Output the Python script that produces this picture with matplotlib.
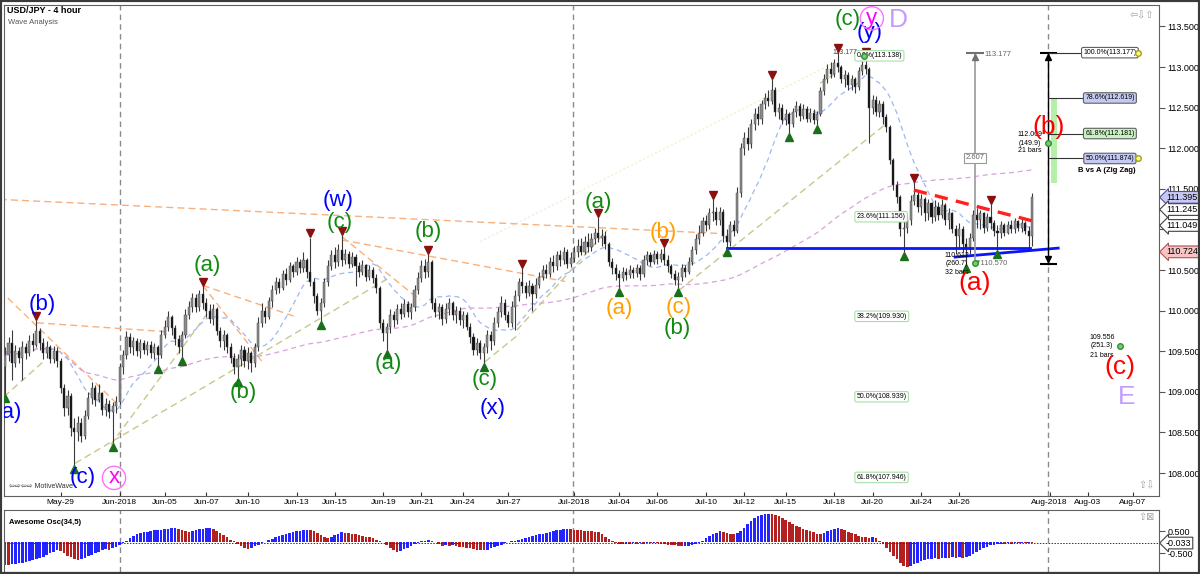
import matplotlib
matplotlib.use("Agg")
import matplotlib.pyplot as plt
import matplotlib.transforms as mtransforms
from matplotlib.patches import Rectangle
import pandas as pd

plt.rcParams['font.family'] = ['Liberation Sans', 'DejaVu Sans']

# ---- price data (4 hour bars) ----
first_open = 109.30
closes = [
    109.45, 109.60, 109.35, 109.50, 109.42, 109.55, 109.48, 109.62, 109.58, 109.75,
    109.60, 109.48, 109.55, 109.40, 109.50, 109.38, 109.05, 108.80, 108.95, 108.55,
    108.50, 108.62, 108.45, 108.70, 108.92, 109.05, 108.90, 108.98, 108.78, 108.85,
    108.75, 108.82, 108.88, 109.30, 109.45, 109.68, 109.55, 109.62, 109.50, 109.60,
    109.52, 109.58, 109.48, 109.55, 109.45, 109.70, 109.80, 109.92, 109.78, 109.65,
    109.55, 109.70, 109.95, 110.05, 110.15, 110.05, 110.20, 110.10, 110.00, 109.90,
    110.02, 109.75, 109.62, 109.70, 109.55, 109.42, 109.30, 109.40, 109.52, 109.38,
    109.48, 109.35, 109.55, 109.85, 110.00, 109.92, 110.12, 110.25, 110.35, 110.28,
    110.45, 110.38, 110.55, 110.48, 110.60, 110.52, 110.62, 110.48, 110.35, 110.18,
    110.00, 110.10, 110.35, 110.55, 110.68, 110.60, 110.75, 110.62, 110.70, 110.58,
    110.66, 110.55, 110.48, 110.56, 110.42, 110.50, 110.40, 110.28, 109.85, 109.72,
    109.80, 109.95, 109.88, 110.02, 109.96, 110.08, 109.98, 110.05, 110.25, 110.40,
    110.55, 110.48, 110.60, 110.10, 109.98, 110.05, 109.90, 110.02, 110.10, 109.95,
    110.00, 109.88, 109.95, 109.80, 109.68, 109.52, 109.60, 109.48, 109.55, 109.70,
    109.62, 109.85, 109.98, 110.10, 109.95, 109.85, 110.05, 110.18, 110.35, 110.30,
    110.22, 110.30, 110.20, 110.32, 110.42, 110.50, 110.45, 110.60, 110.55, 110.68,
    110.62, 110.72, 110.58, 110.65, 110.72, 110.80, 110.72, 110.85, 110.78, 110.88,
    110.95, 110.90, 110.92, 110.82, 110.60, 110.52, 110.45, 110.40, 110.48, 110.44,
    110.50, 110.46, 110.52, 110.45, 110.62, 110.68, 110.60, 110.70, 110.64, 110.70,
    110.62, 110.55, 110.45, 110.38, 110.42, 110.52, 110.48, 110.60, 110.75, 110.88,
    110.96, 111.10, 111.05, 111.20, 111.22, 111.12, 111.22, 110.92, 110.85, 111.05,
    110.98, 111.45, 112.00, 112.12, 112.05, 112.30, 112.42, 112.36, 112.55, 112.62,
    112.58, 112.72, 112.45, 112.50, 112.35, 112.42, 112.30, 112.45, 112.52, 112.40,
    112.48, 112.36, 112.44, 112.35, 112.42, 112.70, 112.85, 112.98, 112.92, 113.05,
    113.00, 112.85, 112.90, 112.78, 112.85, 112.75, 112.95, 113.02, 112.98, 112.50,
    112.60, 112.45, 112.55, 112.38, 112.26, 111.85, 111.55, 111.40, 111.00, 111.02,
    111.12, 111.35, 111.42, 111.28, 111.38, 111.20, 111.32, 111.15, 111.28, 111.18,
    111.30, 111.12, 111.20, 111.00, 110.92, 111.00, 110.82, 110.76, 110.90, 111.18,
    111.12, 111.20, 111.02, 111.15, 111.08, 110.98, 110.95, 111.05, 110.96, 111.06,
    111.00, 111.10, 111.02, 111.08, 110.98, 110.92, 111.395,
]
highs = [
    109.55, 109.68, 109.76, 109.58, 109.55, 109.62, 109.60, 109.70, 109.72, 109.88,
    109.78, 109.66, 109.62, 109.58, 109.56, 109.55, 109.42, 109.10, 109.02, 108.98,
    108.68, 108.70, 108.68, 108.78, 109.00, 109.12, 109.08, 109.10, 109.00, 108.92,
    108.90, 108.88, 108.95, 109.35, 109.52, 109.75, 109.72, 109.68, 109.66, 109.65,
    109.64, 109.62, 109.62, 109.60, 109.58, 109.76, 109.88, 110.00, 109.95, 109.82,
    109.70, 109.75, 110.02, 110.12, 110.22, 110.20, 110.25, 110.30, 110.15, 110.08,
    110.08, 110.05, 109.80, 109.76, 109.72, 109.60, 109.48, 109.46, 109.58, 109.56,
    109.55, 109.50, 109.60, 109.92, 110.10, 110.05, 110.17, 110.32, 110.42, 110.40,
    110.50, 110.52, 110.60, 110.58, 110.66, 110.64, 110.72, 110.65, 110.90, 110.40,
    110.22, 110.15, 110.40, 110.62, 110.75, 110.78, 110.82, 110.93, 110.76, 110.74,
    110.72, 110.70, 110.60, 110.62, 110.58, 110.56, 110.54, 110.45, 110.30, 109.90,
    109.85, 110.02, 110.00, 110.08, 110.10, 110.14, 110.12, 110.10, 110.32, 110.48,
    110.62, 110.64, 110.70, 110.62, 110.15, 110.10, 110.08, 110.10, 110.15, 110.12,
    110.06, 110.04, 110.00, 109.98, 109.85, 109.72, 109.66, 109.64, 109.60, 109.76,
    109.75, 109.92, 110.05, 110.18, 110.14, 110.00, 110.12, 110.25, 110.40, 110.52,
    110.35, 110.38, 110.34, 110.40, 110.48, 110.56, 110.58, 110.66, 110.68, 110.74,
    110.75, 110.78, 110.76, 110.72, 110.80, 110.88, 110.90, 110.92, 110.95, 110.95,
    111.02, 111.15, 111.00, 110.98, 110.85, 110.65, 110.58, 110.50, 110.54, 110.52,
    110.56, 110.54, 110.58, 110.56, 110.68, 110.74, 110.72, 110.75, 110.74, 110.76,
    110.78, 110.68, 110.58, 110.50, 110.48, 110.58, 110.56, 110.66, 110.80, 110.94,
    111.05, 111.15, 111.18, 111.26, 111.38, 111.28, 111.28, 111.25, 111.00, 111.10,
    111.12, 111.52, 112.06, 112.20, 112.26, 112.36, 112.50, 112.52, 112.60, 112.68,
    112.72, 112.85, 112.76, 112.56, 112.54, 112.48, 112.45, 112.50, 112.58, 112.56,
    112.54, 112.52, 112.50, 112.48, 112.46, 112.76, 112.92, 113.04, 113.06, 113.10,
    113.18, 113.02, 112.96, 112.94, 112.90, 112.88, 113.00, 113.08, 113.14, 113.00,
    112.66, 112.64, 112.60, 112.58, 112.42, 112.28, 111.88, 111.60, 111.42, 111.10,
    111.18, 111.42, 111.58, 111.46, 111.44, 111.40, 111.38, 111.34, 111.36, 111.34,
    111.38, 111.32, 111.26, 111.22, 111.06, 111.08, 111.04, 110.90, 110.96, 111.24,
    111.26, 111.24, 111.22, 111.20, 111.31, 111.12, 111.05, 111.10, 111.08, 111.10,
    111.12, 111.14, 111.12, 111.14, 111.10, 111.04, 111.45,
]
lows = [
    108.97, 109.38, 109.15, 109.30, 109.36, 109.15, 109.40, 109.44, 109.50, 109.55,
    109.52, 109.40, 109.42, 109.35, 109.36, 109.30, 108.98, 108.70, 108.72, 108.45,
    108.10, 108.40, 108.38, 108.42, 108.66, 108.85, 108.82, 108.88, 108.72, 108.70,
    108.68, 108.37, 108.74, 108.85, 109.22, 109.40, 109.48, 109.45, 109.44, 109.42,
    109.46, 109.45, 109.42, 109.40, 109.33, 109.42, 109.66, 109.75, 109.70, 109.58,
    109.48, 109.43, 109.66, 109.90, 109.98, 109.98, 110.00, 110.02, 109.92, 109.85,
    109.82, 109.70, 109.55, 109.52, 109.48, 109.35, 109.22, 109.17, 109.32, 109.30,
    109.28, 109.24, 109.30, 109.50, 109.80, 109.85, 109.90, 110.05, 110.20, 110.22,
    110.25, 110.32, 110.35, 110.42, 110.44, 110.46, 110.48, 110.40, 110.30, 110.10,
    109.95, 109.87, 110.05, 110.30, 110.50, 110.52, 110.55, 110.55, 110.58, 110.52,
    110.54, 110.30, 110.42, 110.44, 110.36, 110.38, 110.34, 110.22, 109.78, 109.62,
    109.51, 109.72, 109.80, 109.84, 109.90, 109.92, 109.92, 109.90, 110.00, 110.20,
    110.35, 110.40, 110.42, 110.02, 109.92, 109.90, 109.82, 109.85, 109.95, 109.88,
    109.85, 109.82, 109.78, 109.76, 109.60, 109.45, 109.45, 109.40, 109.36, 109.48,
    109.52, 109.58, 109.80, 109.92, 109.88, 109.80, 109.80, 109.76, 110.12, 110.22,
    110.15, 110.18, 110.00, 110.15, 110.28, 110.38, 110.40, 110.42, 110.48, 110.50,
    110.55, 110.58, 110.52, 110.54, 110.60, 110.66, 110.68, 110.70, 110.72, 110.74,
    110.82, 110.85, 110.80, 110.76, 110.55, 110.45, 110.38, 110.28, 110.36, 110.38,
    110.40, 110.40, 110.42, 110.38, 110.42, 110.56, 110.55, 110.58, 110.58, 110.60,
    110.56, 110.48, 110.40, 110.32, 110.28, 110.36, 110.42, 110.45, 110.56, 110.70,
    110.82, 110.92, 110.98, 111.00, 111.10, 111.05, 111.06, 110.85, 110.77, 110.80,
    110.92, 110.95, 111.40, 111.92, 111.98, 112.00, 112.22, 112.28, 112.30, 112.48,
    112.52, 112.55, 112.40, 112.36, 112.30, 112.28, 112.19, 112.26, 112.38, 112.34,
    112.36, 112.32, 112.32, 112.30, 112.29, 112.40, 112.65, 112.80, 112.86, 112.88,
    112.94, 112.80, 112.76, 112.72, 112.72, 112.68, 112.72, 112.90, 112.92, 112.06,
    112.42, 112.40, 112.38, 112.30, 112.20, 111.80, 111.48, 111.32, 110.92, 110.72,
    110.96, 111.05, 111.30, 111.22, 111.18, 111.10, 111.12, 111.08, 111.10, 111.12,
    111.14, 111.05, 111.00, 110.95, 110.70, 110.76, 110.72, 110.57, 110.70, 110.86,
    111.02, 111.00, 110.96, 110.98, 111.00, 110.92, 110.75, 110.90, 110.92, 110.94,
    110.95, 110.96, 110.98, 110.97, 110.94, 110.78, 110.80,
]
# Awesome Oscillator (34,5), one value per bar
ao_values = [
    -1.02, -1.04, -1.00, -0.98, -0.96, -0.93, -0.90, -0.86, -0.82, -0.78,
    -0.72, -0.66, -0.58, -0.50, -0.42, -0.36, -0.40, -0.50, -0.60, -0.68,
    -0.74, -0.80, -0.78, -0.72, -0.64, -0.56, -0.48, -0.42, -0.36, -0.32,
    -0.34, -0.28, -0.22, -0.14, -0.04, 0.08, 0.18, 0.28, 0.36, 0.42,
    0.46, 0.49, 0.52, 0.54, 0.56, 0.58, 0.60, 0.62, 0.64, 0.66,
    0.62, 0.56, 0.50, 0.46, 0.50, 0.55, 0.59, 0.62, 0.64, 0.65,
    0.60, 0.52, 0.42, 0.32, 0.22, 0.12, 0.04, -0.06, -0.16, -0.26,
    -0.30, -0.25, -0.18, -0.10, -0.04, 0.02, 0.10, 0.16, 0.22, 0.28,
    0.34, 0.40, 0.44, 0.48, 0.51, 0.53, 0.55, 0.56, 0.54, 0.50,
    0.42, 0.32, 0.24, 0.20, 0.26, 0.34, 0.40, 0.45, 0.44, 0.42,
    0.40, 0.37, 0.34, 0.30, 0.26, 0.22, 0.18, 0.12, 0.06, 0.00,
    -0.10, -0.24, -0.36, -0.45, -0.40, -0.32, -0.24, -0.16, -0.08, -0.02,
    0.04, 0.08, 0.12, 0.08, 0.00, -0.08, -0.15, -0.12, -0.16, -0.14,
    -0.18, -0.20, -0.22, -0.25, -0.28, -0.31, -0.34, -0.36, -0.37, -0.33,
    -0.28, -0.22, -0.16, -0.10, -0.04, 0.00, 0.04, 0.08, 0.12, 0.16,
    0.20, 0.24, 0.28, 0.32, 0.36, 0.40, 0.44, 0.48, 0.52, 0.55,
    0.58, 0.60, 0.62, 0.60, 0.58, 0.56, 0.54, 0.53, 0.52, 0.50,
    0.48, 0.45, 0.36, 0.26, 0.14, 0.05, -0.02, -0.06, -0.08, -0.06,
    -0.08, -0.05, -0.07, -0.04, -0.06, -0.03, -0.05, -0.02, -0.04, -0.06,
    -0.08, -0.10, -0.12, -0.14, -0.16, -0.18, -0.17, -0.15, -0.12, -0.08,
    -0.02, 0.08, 0.18, 0.28, 0.36, 0.42, 0.50, 0.48, 0.44, 0.40,
    0.38, 0.42, 0.52, 0.66, 0.82, 0.98, 1.10, 1.20, 1.26, 1.28,
    1.30, 1.28, 1.24, 1.18, 1.10, 1.02, 0.92, 0.84, 0.76, 0.68,
    0.62, 0.56, 0.50, 0.45, 0.40, 0.38, 0.44, 0.52, 0.58, 0.62,
    0.63, 0.60, 0.54, 0.48, 0.42, 0.36, 0.30, 0.26, 0.22, 0.20,
    0.22, 0.18, 0.06, -0.08, -0.24, -0.42, -0.60, -0.78, -0.94, -1.06,
    -1.12, -1.08, -1.00, -0.92, -0.86, -0.80, -0.76, -0.74, -0.72, -0.75,
    -0.73, -0.70, -0.72, -0.69, -0.70, -0.68, -0.70, -0.67, -0.60, -0.52,
    -0.44, -0.36, -0.28, -0.20, -0.14, -0.10, -0.07, -0.06, -0.08, -0.05,
    -0.06, -0.04, -0.05, -0.03, -0.04, -0.03, -0.033,
]

date_ticks = [16, 33, 46, 58, 70, 84, 95, 109, 120, 132, 145, 164,
              177, 188, 202, 213, 225, 239, 250, 264, 275, 301, 312, 325]
date_labels = ['May-29', 'Jun-2018', 'Jun-05', 'Jun-07', 'Jun-10', 'Jun-13',
               'Jun-15', 'Jun-19', 'Jun-21', 'Jun-24', 'Jun-27', 'Jul-2018',
               'Jul-04', 'Jul-06', 'Jul-10', 'Jul-12', 'Jul-15', 'Jul-18',
               'Jul-20', 'Jul-24', 'Jul-26', 'Aug-2018', 'Aug-03', 'Aug-07']
month_starts = [33.1, 163.7, 300.6]
price_ticks = [108.0, 108.5, 109.0, 109.5, 110.0, 110.5, 111.0, 111.5,
               112.0, 112.5, 113.0, 113.5]

pivot_highs = [9, 57, 88, 97, 122, 149, 171, 190, 204, 221, 240, 248, 262, 284]
pivot_lows = [0, 20, 31, 44, 51, 67, 91, 110, 138, 177, 194, 208, 226, 234,
              259, 277, 286]

fib_levels = [113.138, 111.156, 109.930, 108.939, 107.946]
fib_names = ['0.0%', '23.6%', '38.2%', '50.0%', '61.8%']
proj_levels = [113.177, 112.619, 112.181, 111.874]
proj_names = ['100.0%', '78.6%', '61.8%', '50.0%']
proj_fill = ['white', '#c4caf2', '#c8f2c0', '#c4caf2']
axis_marks = [111.395, 111.245, 111.049, 110.724]
axis_fill = ['#c8c8f4', 'white', 'white', '#f6c4c4']

BLUE, GREEN, ORANGE, RED = '#0000ff', '#108a10', '#ffa000', '#ff0000'
MAGENTA, LILAC = '#ff00ff', '#c49cff'
wave_labels = [
    ('(a)', 1.0, 108.74, BLUE, 16), ('(b)', 10.6, 110.07, BLUE, 16),
    ('(c)', 22.5, 107.94, BLUE, 16), ('(a)', 58.2, 110.56, GREEN, 16),
    ('(b)', 68.6, 108.99, GREEN, 16), ('(w)', 96.0, 111.36, BLUE, 16),
    ('(c)', 96.5, 111.09, GREEN, 16), ('(a)', 110.4, 109.35, GREEN, 16),
    ('(b)', 121.9, 110.97, GREEN, 16), ('(c)', 138.3, 109.15, GREEN, 16),
    ('(x)', 140.6, 108.80, BLUE, 16), ('(a)', 170.9, 111.33, GREEN, 16),
    ('(a)', 176.9, 110.03, ORANGE, 16), ('(b)', 189.6, 110.96, ORANGE, 16),
    ('(c)', 194.2, 110.04, ORANGE, 16), ('(b)', 193.7, 109.78, GREEN, 16),
    ('(c)', 242.9, 113.58, GREEN, 16), ('(y)', 249.3, 113.43, BLUE, 16),
    ('D', 257.3, 113.58, LILAC, 19), ('(a)', 279.5, 110.34, RED, 19),
    ('(b)', 300.6, 112.26, RED, 19), ('(c)', 321.3, 109.31, RED, 19),
    ('E', 323.3, 108.94, LILAC, 19),
]
circled_labels = [('x', 31.4, 107.94), ('y', 249.8, 113.60)]

orange_lines = [((-1.5, 111.37), (206.0, 110.95)), ((9.2, 109.85), (46.7, 109.74)),
                ((-1.5, 110.25), (32.6, 108.84)), ((57.0, 110.31), (84.1, 109.92)),
                ((57.0, 110.31), (74.1, 109.37)), ((97.1, 110.91), (119.6, 110.13)),
                ((97.1, 110.87), (161.4, 110.36))]
olive_lines = [((20.2, 108.12), (110.9, 110.41)), ((30.5, 108.35), (59.1, 110.01)),
               ((-0.3, 108.94), (11.0, 109.37)), ((147.5, 109.76), (173.5, 110.99)),
               ((138.3, 109.37), (148.4, 109.72)), ((194.2, 110.25), (253.6, 112.29)),
               ((234.9, 112.80), (240.6, 112.96))]
faint_line = ((137.0, 110.85), (238.8, 113.05))
blue_lines = [((208.1, 110.77), (295.4, 110.77)), ((273.8, 110.66), (303.5, 110.77))]
red_line = ((261.9, 111.485), (297.4, 111.09))

# ---- figure ----
fig = plt.figure(figsize=(12, 5.74), dpi=100)
ax = fig.add_axes([4 / 1200, 78 / 574, 1155 / 1200, 491 / 574])
osc = fig.add_axes([4 / 1200, 2 / 574, 1155 / 1200, 62 / 574])

n = len(closes)
idx = list(range(n))
opens = [first_open] + closes[:-1]
body_low = [min(o, c) for o, c in zip(opens, closes)]
body_h = [max(abs(c - o), 0.008) for o, c in zip(opens, closes)]
body_col = ['#8c8c8c' if c >= o else '#101010' for o, c in zip(opens, closes)]
wick_lo = [min(l, o, c) for l, o, c in zip(lows, opens, closes)]
wick_hi = [max(h, o, c) for h, o, c in zip(highs, opens, closes)]

ax.vlines(idx, wick_lo, wick_hi, color='#3a3a3a', lw=0.8, zorder=4)
ax.bar(idx, body_h, bottom=body_low, width=0.6, color=body_col,
       edgecolor='#404040', linewidth=0.3, zorder=5)

s = pd.Series(closes)
ax.plot(idx, s.rolling(14, min_periods=1).mean(), color='#9cb8f2', lw=0.9,
        ls=(0, (4, 3)), zorder=3)
ax.plot(idx, s.rolling(100, min_periods=1).mean(), color='#d8a2dc', lw=0.9,
        ls=(0, (4, 3)), zorder=3)

for (x0, y0), (x1, y1) in orange_lines:
    ax.plot([x0, x1], [y0, y1], color='#f8b07c', lw=1.0, ls=(0, (5, 3)), zorder=2)
for (x0, y0), (x1, y1) in olive_lines:
    ax.plot([x0, x1], [y0, y1], color='#c8c88c', lw=1.0, ls=(0, (5, 3)), zorder=2)
ax.plot([faint_line[0][0], faint_line[1][0]], [faint_line[0][1], faint_line[1][1]],
        color='#f2ecc8', lw=0.8, ls=(0, (2, 2)), zorder=1)
for (x0, y0), (x1, y1) in blue_lines:
    ax.plot([x0, x1], [y0, y1], color='#0a14ff', lw=2, zorder=6)
ax.plot([red_line[0][0], red_line[1][0]], [red_line[0][1], red_line[1][1]],
        color='#ff2020', lw=2.4, ls=(0, (4, 2.5)), zorder=6)

ax.plot(pivot_highs, [highs[i] + 0.05 for i in pivot_highs], 'v', color='#8b1010',
        ms=6, zorder=7)
ax.plot(pivot_lows, [lows[i] - 0.05 for i in pivot_lows], '^', color='#1a701a',
        ms=6, zorder=7)

for m in month_starts:
    ax.axvline(m, color='#8a8a8a', lw=1, ls=(0, (4, 3)), zorder=1)
    osc.axvline(m, color='#8a8a8a', lw=1, ls=(0, (4, 3)), zorder=1)

# fib retracement boxes
for name, lvl in zip(fib_names, fib_levels):
    ax.text(245.4, lvl, f"{name}({lvl:.3f})", fontsize=5, ha='left', va='center',
            zorder=8, bbox=dict(boxstyle='round,pad=0.25', fc='white',
                                ec='#a8e0a8', lw=0.8))
ax.plot(247.5, 113.14, 'o', ms=4, mfc='#70d070', mec='#309030', zorder=9)
ax.text(245.6, 113.18, '113.177', fontsize=5, ha='right', va='center',
        color='#444444', zorder=8)

# gray measure
gx = 279.5
ax.plot([gx, gx], [110.57, 113.177], color='#9a9a9a', lw=1.2, zorder=6)
ax.hlines(113.177, gx - 2.5, gx + 2.5, color='#707070', lw=1.5, zorder=6)
ax.plot(gx, 113.12, '^', color='#707070', ms=4, zorder=6)
ax.text(gx + 2.8, 113.15, '113.177', fontsize=5.5, color='#666666', ha='left',
        va='center')
ax.text(gx, 111.88, '2.607', fontsize=5.5, color='#666666', ha='center',
        va='center', zorder=8,
        bbox=dict(boxstyle='square,pad=0.2', fc='white', ec='#999999', lw=0.8))
ax.text(gx - 0.4, 110.585, '▼110.570', fontsize=5.5, color='#666666', ha='left',
        va='center', zorder=8)
ax.text(274.3, 110.685, '110.612', fontsize=5, ha='center', va='center', zorder=8)
ax.text(274.3, 110.586, '(260.7)', fontsize=5, ha='center', va='center', zorder=8)
ax.text(274.3, 110.475, '32 bars', fontsize=5, ha='center', va='center', zorder=8)
ax.plot(gx, 110.586, 'o', ms=4, mfc='#70d070', mec='#309030', zorder=9)

# B vs A projection
bx = 300.7
ax.add_patch(Rectangle((301.4, 111.57), 1.8, 1.05, fc='#b4f0a8', ec='none', zorder=2))
ax.plot([bx, bx], [110.57, 113.177], color='black', lw=1, zorder=6)
ax.hlines([113.177, 110.57], bx - 2.5, bx + 2.5, color='black', lw=1.5, zorder=6)
ax.plot(bx, 113.12, '^', color='black', ms=4, zorder=6)
ax.plot(bx, 110.63, 'v', color='black', ms=4, zorder=6)
ax.hlines(proj_levels, bx, [310.1, 311.5, 311.5, 311.5], color='#333333', lw=0.8,
          zorder=6)
for name, lvl, fc in zip(proj_names, proj_levels, proj_fill):
    ax.text(318.4, lvl, f"{name}({lvl:.3f})", fontsize=5, ha='center', va='center',
            zorder=8, bbox=dict(boxstyle='round,pad=0.25', fc=fc, ec='#606060',
                                lw=0.8))
ax.plot([326.6, 326.6], [113.177, 111.874], 'o', ms=4, mfc='#ffff70', mec='#a0a020',
        zorder=9)
ax.text(317.6, 111.73, 'B vs A (Zig Zag)', fontsize=5.5, fontweight='bold',
        ha='center', va='center')
ax.text(295.4, 112.175, '112.069', fontsize=5, ha='center', va='center')
ax.text(295.4, 112.064, '(149.9)', fontsize=5, ha='center', va='center')
ax.text(295.4, 111.966, '21 bars', fontsize=5, ha='center', va='center')
ax.plot(bx, 112.06, 'o', ms=4, mfc='#70d070', mec='#309030', zorder=9)
ax.text(316.1, 109.675, '109.556', fontsize=5, ha='center', va='center')
ax.text(316.1, 109.576, '(251.3)', fontsize=5, ha='center', va='center')
ax.text(316.1, 109.453, '21 bars', fontsize=5, ha='center', va='center')
ax.plot(321.3, 109.564, 'o', ms=4, mfc='#70d070', mec='#309030', zorder=9)

# wave labels
for txt, x, y, col, fs in wave_labels:
    ax.text(x, y, txt, color=col, fontsize=fs, ha='center', va='center',
            zorder=10, clip_on=True)
for txt, x, y in circled_labels:
    ax.text(x, y, txt, color=MAGENTA, fontsize=16, ha='center', va='center',
            zorder=10, bbox=dict(boxstyle='circle,pad=0.05', fc='none',
                                 ec='#ff70ff', lw=1))

# axes styling
ax.set_xlim(-0.3, 332.55)
ax.set_ylim(107.717, 113.764)
ax.yaxis.tick_right()
ax.set_yticks(price_ticks)
# 111.000 sits under the 111.049 marker box on the axis
ax.set_yticklabels(['' if p == 111.0 else f"{p:.3f}" for p in price_ticks])
ax.set_xticks(date_ticks)
ax.set_xticklabels(date_labels)
ax.tick_params(axis='x', direction='in', length=3, labelsize=6, pad=2,
               color='#333333')
ax.tick_params(axis='y', direction='out', length=4, labelsize=6.5, pad=2,
               color='#555555')
for sp in ax.spines.values():
    sp.set_color('#606060')

trans = mtransforms.blended_transform_factory(ax.transAxes, ax.transData)
for p, fc in zip(axis_marks, axis_fill):
    ec = '#5050a0' if fc == '#c8c8f4' else ('#b05050' if fc == '#f6c4c4' else '#404040')
    ax.text(1.006, p, f"{p:.3f}", transform=trans, fontsize=6.5, ha='left',
            va='center', zorder=10, clip_on=False,
            bbox=dict(boxstyle='larrow,pad=0.15', fc=fc, ec=ec, lw=0.8))

ax.text(0.004, 0.012, '⇦⇨⇦⇨ MotiveWave', transform=ax.transAxes, fontsize=5,
        color='#333333', ha='left', va='bottom')
ax.text(0.996, 0.99, '⇦⇩⇧', transform=ax.transAxes, fontsize=7, color='#a0a0a0',
        ha='right', va='top')
ax.text(0.996, 0.012, '⇧⇩', transform=ax.transAxes, fontsize=7, color='#a0a0a0',
        ha='right', va='bottom')

fig.text(7 / 1200, 1 - 10.5 / 574, 'USD/JPY - 4 hour', fontsize=6.5,
         fontweight='bold', ha='left', va='center')
fig.text(8 / 1200, 1 - 22.5 / 574, 'Wave Analysis', fontsize=5.5, color='#555555',
         ha='left', va='center')

# Awesome oscillator
ao_col = ['#b42020' if i == 0 or ao_values[i] <= ao_values[i - 1] else '#2424ff'
          for i in idx]
osc.bar(idx, ao_values, width=0.75, color=ao_col, linewidth=0)
osc.axhline(-0.033, color='#333333', lw=0.7, ls=(0, (1.5, 1.5)))
osc.set_xlim(-0.3, 332.55)
osc.set_ylim(-1.35, 1.47)
osc.set_xticks([])
osc.yaxis.tick_right()
osc.set_yticks([0.5, -0.5])
osc.set_yticklabels(['0.500', '-0.500'])
osc.tick_params(axis='y', direction='out', length=4, labelsize=6.5, pad=2,
                color='#555555')
for sp in osc.spines.values():
    sp.set_color('#606060')
otrans = mtransforms.blended_transform_factory(osc.transAxes, osc.transData)
osc.text(1.006, -0.033, '-0.033', transform=otrans, fontsize=6.5, ha='left',
         va='center', clip_on=False,
         bbox=dict(boxstyle='larrow,pad=0.15', fc='white', ec='#404040', lw=0.8))
osc.text(0.004, 0.86, 'Awesome Osc(34,5)', transform=osc.transAxes, fontsize=5.5,
         fontweight='bold', ha='left', va='top')
osc.text(0.996, 0.97, '⇧⊠', transform=osc.transAxes, fontsize=7, color='#a0a0a0',
         ha='right', va='top')

fig.add_artist(Rectangle((0, 0), 1, 1, transform=fig.transFigure, fill=False,
                         ec='#3a3a3a', lw=3))

fig.savefig('out.png', dpi=100)
